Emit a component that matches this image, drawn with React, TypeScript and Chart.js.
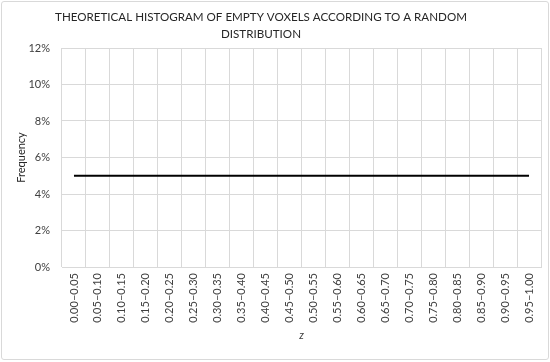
import React, { useEffect, useRef } from "react";
import { Chart, registerables } from "chart.js";

Chart.register(...registerables);

const categories: string[] = [
  "0.00–0.05", "0.05–0.10", "0.10–0.15", "0.15–0.20", "0.20–0.25",
  "0.25–0.30", "0.30–0.35", "0.35–0.40", "0.40–0.45", "0.45–0.50",
  "0.50–0.55", "0.55–0.60", "0.60–0.65", "0.65–0.70", "0.70–0.75",
  "0.75–0.80", "0.80–0.85", "0.85–0.90", "0.90–0.95", "0.95–1.00",
];
const frequency: number[] = [
  0.05, 0.05, 0.05, 0.05, 0.05, 0.05, 0.05, 0.05, 0.05, 0.05,
  0.05, 0.05, 0.05, 0.05, 0.05, 0.05, 0.05, 0.05, 0.05, 0.05,
];
const titleLines: string[] = [
  "THEORETICAL HISTOGRAM OF EMPTY VOXELS ACCORDING TO A RANDOM",
  "DISTRIBUTION",
];
const yMin = 0;
const yMax = 0.12;
const yStep = 0.02;

const FONT = "Lato, 'Open Sans', sans-serif";

const titlePlugin = {
  id: "offsetTitle",
  afterDraw(chart: any) {
    const ctx = chart.ctx;
    ctx.save();
    ctx.fillStyle = "#262626";
    ctx.font = "11.6px " + FONT;
    ctx.textAlign = "center";
    ctx.textBaseline = "middle";
    titleLines.forEach((line, i) => {
      ctx.fillText(line, 261, 17 + i * 17);
    });
    ctx.restore();
  },
};

export default function App() {
  const ref = useRef<HTMLCanvasElement | null>(null);
  useEffect(() => {
    if (!ref.current) return;
    const chart = new Chart(ref.current, {
      type: "line",
      data: {
        labels: categories,
        datasets: [
          {
            label: "Frequency",
            data: frequency,
            borderColor: "#000000",
            borderWidth: 2,
            pointRadius: 0,
            fill: false,
            tension: 0,
          },
        ],
      },
      plugins: [titlePlugin],
      options: {
        responsive: false,
        animation: false,
        layout: { padding: { left: 8, right: 9, top: 48, bottom: 8 } },
        plugins: {
          legend: { display: false },
          tooltip: { enabled: false },
          title: { display: false },
        },
        scales: {
          x: {
            offset: true,
            grid: { display: true, color: "#d9d9d9", drawTicks: false, offset: true },
            border: { display: true, color: "#d9d9d9" },
            ticks: {
              color: "#404040",
              font: { family: FONT, size: 11 },
              minRotation: 90,
              maxRotation: 90,
              autoSkip: false,
              padding: 6,
            },
            title: {
              display: true,
              text: "z",
              color: "#404040",
              font: { family: FONT, size: 11, style: "italic" },
              padding: { top: 0, bottom: 12 },
            },
            afterFit: (s: any) => {
              s.height = 87;
            },
          },
          y: {
            min: yMin,
            max: yMax,
            grid: { color: "#d9d9d9", drawTicks: false },
            border: { display: false },
            ticks: {
              stepSize: yStep,
              color: "#404040",
              font: { family: FONT, size: 11 },
              padding: 12,
              callback: (v: any) => Math.round(Number(v) * 100) + "%",
            },
            title: {
              display: true,
              text: "Frequency",
              color: "#262626",
              font: { family: FONT, size: 11 },
              padding: { top: 7, bottom: 0 },
            },
            afterFit: (s: any) => {
              s.width = 54;
            },
          },
        },
      },
    });
    return () => chart.destroy();
  }, []);
  return (
    <div
      style={{
        position: "fixed",
        left: 0,
        top: 0,
        width: 550,
        height: 362,
        background: "#ffffff",
      }}
    >
      <div
        style={{
          position: "absolute",
          left: 1,
          top: 1,
          width: 546,
          height: 357,
          border: "1px solid #d9d9d9",
          borderRadius: 3,
          pointerEvents: "none",
        }}
      />
      <canvas ref={ref} width={550} height={362} style={{ display: "block" }} />
    </div>
  );
}
